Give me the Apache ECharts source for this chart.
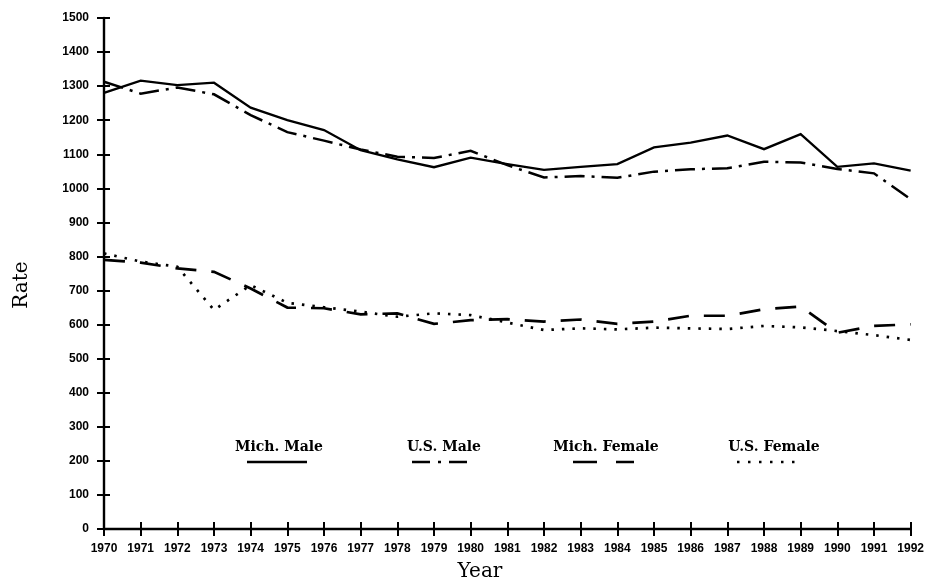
<!DOCTYPE html>
<html>
<head>
<meta charset="utf-8">
<script src="https://cdn.jsdelivr.net/npm/echarts@6/dist/echarts.min.js"></script>
<style>
  html, body { margin: 0; padding: 0; background: #fff; }
  #chart { width: 927px; height: 583px; }
</style>
</head>
<body>
<div id="chart"></div>
<script>
// Death rates per 100,000, Michigan vs. U.S., by sex, 1970-1992
const years = ['1970','1971','1972','1973','1974','1975','1976','1977','1978','1979','1980','1981',
               '1982','1983','1984','1985','1986','1987','1988','1989','1990','1991','1992'];
const michMale   = [1280,1316,1303,1310,1237,1200,1171,1112,1085,1062,1090,1071,1054,1063,1071,1120,1134,1155,1115,1159,1063,1073,1052];
const usMale     = [1313,1278,1296,1276,1215,1165,1140,1114,1093,1089,1110,1068,1032,1036,1031,1049,1056,1059,1078,1076,1057,1044,968];
const michFemale = [790,782,765,755,706,650,648,630,633,602,613,616,609,615,602,609,626,626,645,653,576,596,601];
const usFemale   = [809,785,770,643,716,664,651,638,623,633,628,606,584,589,586,591,589,587,596,592,581,569,555];

const seriesNames = ['Mich. Male', 'U.S. Male', 'Mich. Female', 'U.S. Female'];
const yMin = 0, yMax = 1500, yStep = 100;

const INK = '#000';
const dashStyles = {
  'Mich. Male': 'solid',
  'U.S. Male': [20, 7, 3, 7],
  'Mich. Female': [21, 15],
  'U.S. Female': [2.5, 8]
};
const lineWidths = { 'Mich. Male': 2.3, 'U.S. Male': 2.5, 'Mich. Female': 2.7, 'U.S. Female': 2.7 };

const labelFont = { color: INK, fontFamily: 'Liberation Sans', fontWeight: 'bold', fontSize: 12 };
const serif = 'DejaVu Serif';

function lineSeries(name, values) {
  return {
    name: name,
    type: 'line',
    data: values,
    symbol: 'none',
    silent: true,
    lineStyle: { color: INK, width: lineWidths[name], type: dashStyles[name], cap: 'butt', join: 'miter' }
  };
}

// Legend swatches sit under their captions
function legendItem(label, cx, x1, x2, dash) {
  return [
    { type: 'text', x: cx, y: 454, style: { text: label, fill: INK, font: 'bold 14px ' + serif, textAlign: 'center', textVerticalAlign: 'bottom' } },
    { type: 'line', shape: { x1: x1, y1: 462, x2: x2, y2: 462 },
      style: { stroke: INK, lineWidth: 2.4, lineDash: dash === 'solid' ? null : dash } }
  ];
}

const chart = echarts.init(document.getElementById('chart'), null, { renderer: 'canvas' });

chart.setOption({
  backgroundColor: '#fff',
  animation: false,
  grid: { left: 104, right: 12, top: 18, bottom: 54, containLabel: false },
  xAxis: [
    {
      type: 'category', data: years, boundaryGap: false, position: 'bottom',
      axisLine: { show: true, lineStyle: { color: INK, width: 2.4 } },
      axisTick: { show: true, inside: false, length: 7, lineStyle: { color: INK, width: 2 } },
      axisLabel: Object.assign({ margin: 14, interval: 0 }, labelFont),
      splitLine: { show: false }
    },
    {
      type: 'category', data: years, boundaryGap: false, position: 'bottom', gridIndex: 0,
      axisLine: { show: false },
      axisTick: { show: true, inside: true, length: 7, lineStyle: { color: INK, width: 2 } },
      axisLabel: { show: false },
      splitLine: { show: false }
    }
  ],
  yAxis: [
    {
      type: 'value', min: yMin, max: yMax, interval: yStep, position: 'left',
      axisLine: { show: true, lineStyle: { color: INK, width: 2.4 } },
      axisTick: { show: true, inside: false, length: 7, lineStyle: { color: INK, width: 2 } },
      axisLabel: Object.assign({ margin: 15, formatter: function (v) { return String(v); } }, labelFont),
      splitLine: { show: false }
    },
    {
      type: 'value', min: yMin, max: yMax, interval: yStep, position: 'left', offset: 0,
      axisLine: { show: false },
      axisTick: { show: true, inside: true, length: 6, lineStyle: { color: INK, width: 2 } },
      axisLabel: { show: false },
      splitLine: { show: false }
    }
  ],
  series: [
    lineSeries(seriesNames[0], michMale),
    lineSeries(seriesNames[1], usMale),
    lineSeries(seriesNames[2], michFemale),
    lineSeries(seriesNames[3], usFemale)
  ],
  graphic: [
    { type: 'text', x: 22, y: 285, rotation: Math.PI / 2,
      style: { text: 'Rate', fill: INK, font: '20px ' + serif, textAlign: 'center', textVerticalAlign: 'middle' } },
    { type: 'text', x: 480, y: 572,
      style: { text: 'Year', fill: INK, font: '20px ' + serif, textAlign: 'center', textVerticalAlign: 'middle' } }
  ]
    .concat(legendItem(seriesNames[0], 279, 247, 307, 'solid'))
    .concat(legendItem(seriesNames[1], 444, 412, 472, [18, 8, 3, 8]))
    .concat(legendItem(seriesNames[2], 606, 573, 634, [24, 19]))
    .concat(legendItem(seriesNames[3], 774, 737, 795, [2.5, 8.5]))
});
</script>
</body>
</html>
